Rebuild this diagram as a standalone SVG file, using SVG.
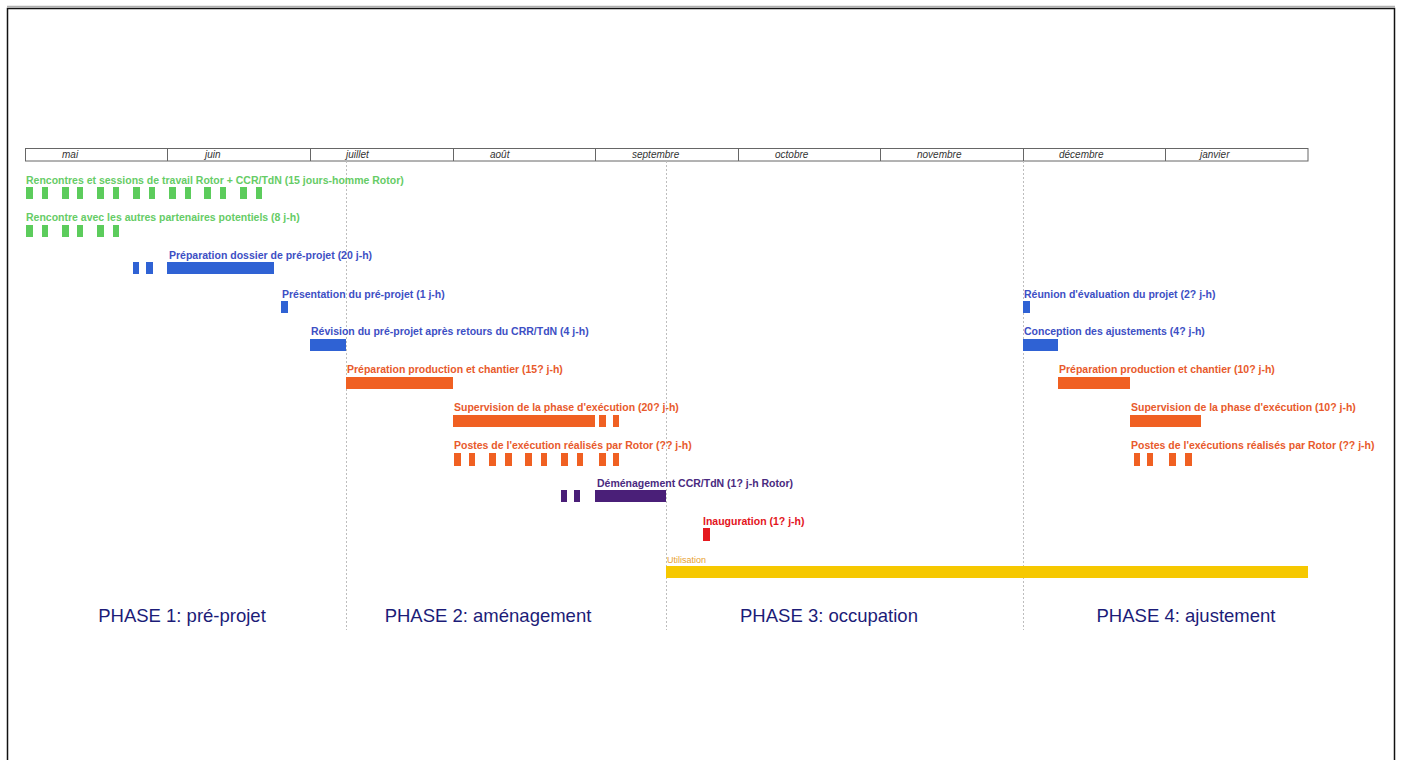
<svg xmlns="http://www.w3.org/2000/svg" width="1403" height="760" viewBox="0 0 1403 760">
  <style>
    .lbl { font-family: "Liberation Sans", Arial, sans-serif; font-size: 10.5px; font-weight: bold; }
    .month { font-family: "Liberation Sans", Arial, sans-serif; font-size: 10px; font-style: italic; fill: #333; }
    .phase { font-family: "Liberation Sans", Arial, sans-serif; font-size: 18.5px; fill: #1c1c78; text-anchor: middle; }
    .grid { stroke: #bdbdbd; stroke-width: 1; stroke-dasharray: 2 2; fill: none; }
    .green { fill: #5ccc5c; }
    .greent { fill: #66cc66; }
    .blue { fill: #2f62d4; }
    .bluet { fill: #3d4fc4; }
    .orange { fill: #f06022; }
    .oranget { fill: #e85a2c; }
    .purple { fill: #4a1f78; }
    .purplet { fill: #4a2a80; }
    .red { fill: #e51a1f; }
    .yellow { fill: #f6c800; }
  </style>

  <rect width="1403" height="760" fill="#ffffff"/>
  <!-- page frame -->
  <line x1="7" y1="6.5" x2="1395" y2="6.5" stroke="#b0b0b0" stroke-width="1.5"/>
  <rect x="7.5" y="8.5" width="1387" height="760" fill="none" stroke="#111" stroke-width="1.5"/>

  <!-- month header -->
  <g id="timeline">
    <rect x="25.5" y="148.5" width="1282.5" height="12.5" fill="#fff" stroke="#666" stroke-width="1"/>
    <g stroke="#666" stroke-width="1">
      <line x1="167.5" y1="148.5" x2="167.5" y2="161"/>
      <line x1="310.5" y1="148.5" x2="310.5" y2="161"/>
      <line x1="453.5" y1="148.5" x2="453.5" y2="161"/>
      <line x1="595.5" y1="148.5" x2="595.5" y2="161"/>
      <line x1="738.5" y1="148.5" x2="738.5" y2="161"/>
      <line x1="880.5" y1="148.5" x2="880.5" y2="161"/>
      <line x1="1023.5" y1="148.5" x2="1023.5" y2="161"/>
      <line x1="1165.5" y1="148.5" x2="1165.5" y2="161"/>
    </g>
    <text class="month" x="62" y="158">mai</text>
    <text class="month" x="205" y="158">juin</text>
    <text class="month" x="346" y="158">juillet</text>
    <text class="month" x="490" y="158">août</text>
    <text class="month" x="632" y="158">septembre</text>
    <text class="month" x="775" y="158">octobre</text>
    <text class="month" x="917" y="158">novembre</text>
    <text class="month" x="1059" y="158">décembre</text>
    <text class="month" x="1200" y="158">janvier</text>
  </g>

  <!-- phase separators -->
  <g id="connectors">
    <line class="grid" x1="346.5" y1="161" x2="346.5" y2="630"/>
    <line class="grid" x1="666.5" y1="161" x2="666.5" y2="630"/>
    <line class="grid" x1="1023.5" y1="161" x2="1023.5" y2="630"/>
  </g>

  <!-- phase 1 -->
  <g id="rencontres-rotor">
    <text class="lbl greent" x="26" y="184">Rencontres et sessions de travail Rotor + CCR/TdN (15 jours-homme Rotor)</text>
    <rect class="green" x="26" y="187" width="7" height="12"/>
    <rect class="green" x="42" y="187" width="6" height="12"/>
    <rect class="green" x="62" y="187" width="7" height="12"/>
    <rect class="green" x="77" y="187" width="6" height="12"/>
    <rect class="green" x="97" y="187" width="7" height="12"/>
    <rect class="green" x="113" y="187" width="6" height="12"/>
    <rect class="green" x="133" y="187" width="7" height="12"/>
    <rect class="green" x="149" y="187" width="6" height="12"/>
    <rect class="green" x="169" y="187" width="7" height="12"/>
    <rect class="green" x="185" y="187" width="6" height="12"/>
    <rect class="green" x="204" y="187" width="7" height="12"/>
    <rect class="green" x="220" y="187" width="6" height="12"/>
    <rect class="green" x="240" y="187" width="7" height="12"/>
    <rect class="green" x="256" y="187" width="6" height="12"/>
  </g>
  <g id="rencontre-partenaires">
    <text class="lbl greent" x="26" y="221">Rencontre avec les autres partenaires potentiels (8 j-h)</text>
    <rect class="green" x="26" y="225" width="7" height="12"/>
    <rect class="green" x="42" y="225" width="6" height="12"/>
    <rect class="green" x="62" y="225" width="7" height="12"/>
    <rect class="green" x="77" y="225" width="6" height="12"/>
    <rect class="green" x="97" y="225" width="7" height="12"/>
    <rect class="green" x="113" y="225" width="6" height="12"/>
  </g>
  <g id="preparation-dossier">
    <text class="lbl bluet" x="169" y="259">Préparation dossier de pré-projet (20 j-h)</text>
    <rect class="blue" x="133" y="262" width="6" height="12"/>
    <rect class="blue" x="146" y="262" width="7" height="12"/>
    <rect class="blue" x="167" y="262" width="107" height="12"/>
  </g>
  <g id="presentation">
    <text class="lbl bluet" x="282" y="298">Présentation du pré-projet (1 j-h)</text>
    <rect class="blue" x="281" y="301" width="7" height="12"/>
  </g>
  <g id="revision">
    <text class="lbl bluet" x="311" y="335">Révision du pré-projet après retours du CRR/TdN (4 j-h)</text>
    <rect class="blue" x="310" y="339" width="36" height="12"/>
  </g>

  <!-- phase 2 -->
  <g id="preparation-production">
    <text class="lbl oranget" x="347" y="373">Préparation production et chantier (15? j-h)</text>
    <rect class="orange" x="346" y="377" width="107" height="12"/>
  </g>
  <g id="supervision">
    <text class="lbl oranget" x="454" y="411">Supervision de la phase d'exécution (20? j-h)</text>
    <rect class="orange" x="453" y="415" width="142" height="12"/>
    <rect class="orange" x="599" y="415" width="7" height="12"/>
    <rect class="orange" x="613" y="415" width="6" height="12"/>
  </g>
  <g id="postes-execution">
    <text class="lbl oranget" x="454" y="449">Postes de l'exécution réalisés par Rotor (?? j-h)</text>
    <rect class="orange" x="454" y="453" width="7" height="13"/>
    <rect class="orange" x="469" y="453" width="6" height="13"/>
    <rect class="orange" x="489" y="453" width="7" height="13"/>
    <rect class="orange" x="505" y="453" width="7" height="13"/>
    <rect class="orange" x="525" y="453" width="7" height="13"/>
    <rect class="orange" x="541" y="453" width="6" height="13"/>
    <rect class="orange" x="561" y="453" width="7" height="13"/>
    <rect class="orange" x="577" y="453" width="6" height="13"/>
    <rect class="orange" x="599" y="453" width="7" height="13"/>
    <rect class="orange" x="613" y="453" width="6" height="13"/>
  </g>
  <g id="demenagement">
    <text class="lbl purplet" x="597" y="487">Déménagement CCR/TdN (1? j-h Rotor)</text>
    <rect class="purple" x="561" y="490" width="6" height="12"/>
    <rect class="purple" x="574" y="490" width="6" height="12"/>
    <rect class="purple" x="595" y="490" width="71" height="12"/>
  </g>
  <g id="inauguration">
    <text class="lbl" fill="#e3141c" x="703" y="525">Inauguration (1? j-h)</text>
    <rect class="red" x="703" y="528" width="7" height="13"/>
  </g>

  <!-- phase 3 -->
  <g id="utilisation">
    <text x="667" y="563" font-family="Liberation Sans, Arial, sans-serif" font-size="9" fill="#e8a030">Utilisation</text>
    <rect class="yellow" x="666" y="566" width="642" height="12"/>
  </g>

  <!-- phase 4 -->
  <g id="reunion-evaluation">
    <text class="lbl bluet" x="1024" y="298">Réunion d'évaluation du projet (2? j-h)</text>
    <rect class="blue" x="1023" y="301" width="7" height="12"/>
  </g>
  <g id="conception-ajustements">
    <text class="lbl bluet" x="1024" y="335">Conception des ajustements (4? j-h)</text>
    <rect class="blue" x="1023" y="339" width="35" height="12"/>
  </g>
  <g id="preparation-production-2">
    <text class="lbl oranget" x="1059" y="373">Préparation production et chantier (10? j-h)</text>
    <rect class="orange" x="1058" y="377" width="72" height="12"/>
  </g>
  <g id="supervision-2">
    <text class="lbl oranget" x="1131" y="411">Supervision de la phase d'exécution (10? j-h)</text>
    <rect class="orange" x="1130" y="415" width="71" height="12"/>
  </g>
  <g id="postes-execution-2">
    <text class="lbl oranget" x="1131" y="449">Postes de l'exécutions réalisés par Rotor (?? j-h)</text>
    <rect class="orange" x="1134" y="453" width="6" height="13"/>
    <rect class="orange" x="1147" y="453" width="6" height="13"/>
    <rect class="orange" x="1169" y="453" width="7" height="13"/>
    <rect class="orange" x="1185" y="453" width="7" height="13"/>
  </g>

  <!-- phase titles -->
  <g id="phases">
    <text class="phase" x="182" y="622">PHASE 1: pré-projet</text>
    <text class="phase" x="488" y="622">PHASE 2: aménagement</text>
    <text class="phase" x="829" y="622">PHASE 3: occupation</text>
    <text class="phase" x="1186" y="622">PHASE 4: ajustement</text>
  </g>
</svg>
